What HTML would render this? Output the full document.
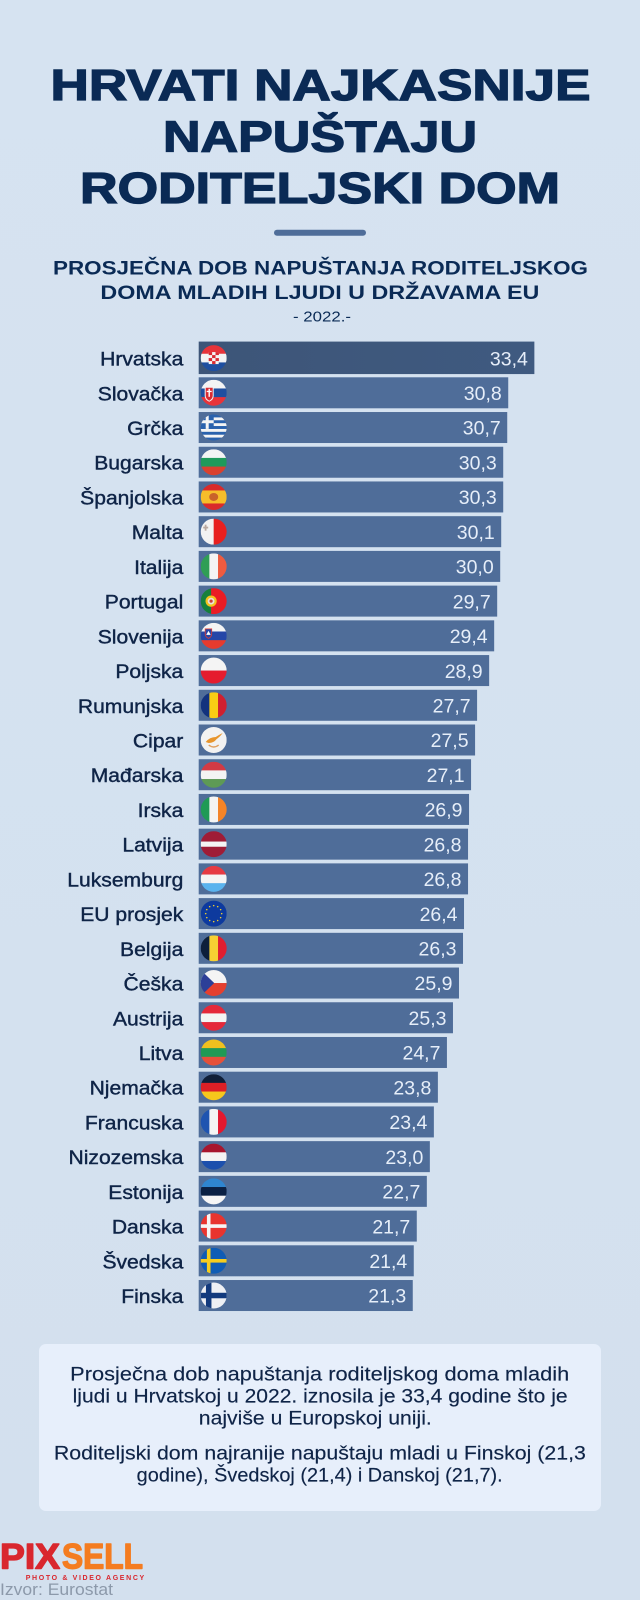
<!DOCTYPE html>
<html lang="hr">
<head>
<meta charset="utf-8">
<title>Hrvati najkasnije napuštaju roditeljski dom</title>
<style>
html,body{margin:0;padding:0;background:#d5e2f0;}
svg{display:block;}
text{font-family:"Liberation Sans","DejaVu Sans",sans-serif;}
</style>
</head>
<body>
<svg id="chart" xmlns="http://www.w3.org/2000/svg" width="640" height="1600" viewBox="0 0 640 1600">
  <defs>
    <linearGradient id="bgGrad" x1="0" y1="0" x2="0" y2="1">
      <stop offset="0" stop-color="#d6e3f1"/>
      <stop offset="1" stop-color="#d3e0ee"/>
    </linearGradient>
    <linearGradient id="topBar" x1="0" y1="0" x2="1" y2="0">
      <stop offset="0" stop-color="#3d5578"/>
      <stop offset="1" stop-color="#3f5a80"/>
    </linearGradient>
    <clipPath id="flagClip"><circle cx="0" cy="0" r="13"/></clipPath>
  </defs>
  <rect x="0" y="0" width="640" height="1600" fill="url(#bgGrad)"/>

  <g fill="#0a2a55" stroke="#0a2a55" stroke-width="1.3" font-weight="700" font-size="44">
    <text x="50.5" y="100.2" textLength="540" lengthAdjust="spacingAndGlyphs">HRVATI NAJKASNIJE</text>
    <text x="163" y="151.5" textLength="314" lengthAdjust="spacingAndGlyphs">NAPUŠTAJU</text>
    <text x="80" y="202.8" textLength="480" lengthAdjust="spacingAndGlyphs">RODITELJSKI DOM</text>
  </g>
  <rect x="274" y="229.7" width="92" height="6" rx="3" fill="#4f6d99"/>

  <g fill="#0a2a55" font-weight="700" font-size="19.5">
    <text x="53" y="274.7" textLength="535" lengthAdjust="spacingAndGlyphs">PROSJEČNA DOB NAPUŠTANJA RODITELJSKOG</text>
    <text x="100.4" y="299" textLength="439" lengthAdjust="spacingAndGlyphs">DOMA MLADIH LJUDI U DRŽAVAMA EU</text>
  </g>
  <text x="293" y="321.7" font-size="14.5" fill="#0a2a55" textLength="58" lengthAdjust="spacingAndGlyphs">- 2022.-</text>

  <g id="plot"></g>

  <rect x="39" y="1344" width="562" height="167" rx="7" fill="#e7effb"/>
  <g fill="#0f2447" stroke="#0f2447" stroke-width="0.15" font-size="19.5">
    <text x="70.2" y="1380.7" textLength="499" lengthAdjust="spacingAndGlyphs">Prosječna dob napuštanja roditeljskog doma mladih</text>
    <text x="72.6" y="1402.7" textLength="495" lengthAdjust="spacingAndGlyphs">ljudi u Hrvatskoj u 2022. iznosila je 33,4 godine što je</text>
    <text x="198.8" y="1424.3" textLength="233" lengthAdjust="spacingAndGlyphs">najviše u Europskoj uniji.</text>
    <text x="53.9" y="1459.3" textLength="532" lengthAdjust="spacingAndGlyphs">Roditeljski dom najranije napuštaju mladi u Finskoj (21,3</text>
    <text x="136.7" y="1481.7" textLength="366" lengthAdjust="spacingAndGlyphs">godine), Švedskoj (21,4) i Danskoj (21,7).</text>
  </g>

  <g>
    <text x="0" y="1568.5" font-size="35" font-weight="700" fill="#d9272e" stroke="#d9272e" stroke-width="1.4" stroke-linejoin="round" textLength="60" lengthAdjust="spacingAndGlyphs">PIX</text>
    <text x="62" y="1568.5" font-size="35" font-weight="700" fill="#f47c20" stroke="#f47c20" stroke-width="1.4" stroke-linejoin="round" textLength="81" lengthAdjust="spacingAndGlyphs">SELL</text>
    <text x="25.7" y="1580" font-size="7" font-weight="700" fill="#d9272e" textLength="118.5" lengthAdjust="spacing">PHOTO &amp; VIDEO AGENCY</text>
  </g>
  <text x="0" y="1595" font-size="17" fill="#8c99aa" textLength="113" lengthAdjust="spacingAndGlyphs">Izvor: Eurostat</text>
</svg>

<script>
const categories = ["Hrvatska","Slovačka","Grčka","Bugarska","Španjolska","Malta","Italija","Portugal","Slovenija","Poljska","Rumunjska","Cipar","Mađarska","Irska","Latvija","Luksemburg","EU prosjek","Belgija","Češka","Austrija","Litva","Njemačka","Francuska","Nizozemska","Estonija","Danska","Švedska","Finska"];
const seriesValues = [33.4,30.8,30.7,30.3,30.3,30.1,30.0,29.7,29.4,28.9,27.7,27.5,27.1,26.9,26.8,26.8,26.4,26.3,25.9,25.3,24.7,23.8,23.4,23.0,22.7,21.7,21.4,21.3];
const flagCodes = ["hr","sk","gr","bg","es","mt","it","pt","si","pl","ro","cy","hu","ie","lv","lu","eu","be","cz","at","lt","de","fr","nl","ee","dk","se","fi"];

const SVG_NS = "http://www.w3.org/2000/svg";
const plot = document.getElementById("plot");
const BAR_LEFT = 198.7, UNIT = 10.05, ROW_ORIGIN = 342.58, ROW_STEP = 34.72, BAR_H = 31;
const xLen = v => v * UNIT;
const rowTop = i => ROW_ORIGIN + i * ROW_STEP;

function make(tag, attrs, parent) {
  const n = document.createElementNS(SVG_NS, tag);
  for (const k in attrs) n.setAttribute(k, attrs[k]);
  if (parent) parent.appendChild(n);
  return n;
}
function rect(p, x, y, w, h, fill) { make("rect", {x, y, width: w, height: h, fill}, p); }
function hs(p, colors, weights) {
  const ws = weights || colors.map(() => 1);
  const tot = ws.reduce((a, b) => a + b, 0);
  let y = -13;
  colors.forEach((c, i) => { const h = 26 * ws[i] / tot; rect(p, -13, y, 26, h + 0.2, c); y += h; });
}
function vs(p, colors, weights) {
  const ws = weights || colors.map(() => 1);
  const tot = ws.reduce((a, b) => a + b, 0);
  let x = -13;
  colors.forEach((c, i) => { const w = 26 * ws[i] / tot; rect(p, x, -13, w + 0.2, 26, c); x += w; });
}
function nordic(p, bg, cross, w) {
  rect(p, -13, -13, 26, 26, bg);
  rect(p, -5 - w / 2, -13, w, 26, cross);
  rect(p, -13, -w / 2, 26, w, cross);
}
const flagDraw = {
  hr(p) {
    hs(p, ["#e8343a", "#f4f4f4", "#1f4fa0"]);
    rect(p, -5, -6, 10, 12, "#f4f4f4");
    for (let r = 0; r < 4; r++) for (let c = 0; c < 3; c++) {
      if ((r + c) % 2 === 0) rect(p, -5 + c * 3.4, -6 + r * 3, 3.4, 3, "#d92b33");
    }
  },
  sk(p) {
    hs(p, ["#f4f4f4", "#1f4fa0", "#e8343a"]);
    make("path", {d: "M-9,-6 H0 V3 Q0,7 -4.5,9 Q-9,7 -9,3 Z", fill: "#f4f4f4"}, p);
    make("path", {d: "M-8,-5 H-1 V3 Q-1,6 -4.5,8 Q-8,6 -8,3 Z", fill: "#d92b33"}, p);
    rect(p, -5.2, -4, 1.4, 8, "#fff");
    rect(p, -7, -2, 5, 1.3, "#fff");
  },
  gr(p) {
    for (let i = 0; i < 9; i++) rect(p, -13, -13 + i * 26 / 9, 26, 26 / 9 + 0.1, i % 2 ? "#f4f4f4" : "#2a62ad");
    rect(p, -13, -13, 13, 14.4, "#2a62ad");
    rect(p, -8, -13, 3, 14.4, "#f4f4f4");
    rect(p, -13, -7.3, 13, 3, "#f4f4f4");
  },
  bg(p) { hs(p, ["#f4f4f4", "#1f9a5b", "#d9412f"]); },
  es(p) {
    hs(p, ["#d92b2b", "#f6bd2a", "#d92b2b"], [1, 2, 1]);
    make("ellipse", {cx: 0, cy: 0, rx: 4.5, ry: 4, fill: "#c9622a"}, p);
  },
  mt(p) {
    vs(p, ["#f2f2f2", "#e8201f"]);
    rect(p, -9, -7, 1.8, 6, "#b9a9a0");
    rect(p, -10.5, -5, 5, 1.8, "#b9a9a0");
  },
  it(p) { vs(p, ["#2f9e55", "#f4f4f4", "#ef5b3f"]); },
  pt(p) {
    vs(p, ["#16803c", "#ea1c24"], [2, 3]);
    make("circle", {cx: -2.6, cy: 0, r: 5.6, fill: "#f5c21d"}, p);
    make("circle", {cx: -2.6, cy: 0, r: 3.4, fill: "#e8e4dc"}, p);
    make("circle", {cx: -2.6, cy: 0, r: 1.6, fill: "#cf3a3a"}, p);
  },
  si(p) {
    hs(p, ["#f4f4f4", "#2547a8", "#e63b2e"]);
    make("path", {d: "M-8.5,-7 H-2 V-2 Q-2,1 -5.2,2.5 Q-8.5,1 -8.5,-2 Z", fill: "#2547a8", stroke: "#e63b2e", "stroke-width": 0.8}, p);
    make("path", {d: "M-7.5,-1 L-5.2,-5 L-3,-1 Z", fill: "#fff"}, p);
  },
  pl(p) { hs(p, ["#f4f4f4", "#e51c2e"]); },
  ro(p) { vs(p, ["#12327e", "#f9cc14", "#d0202f"]); },
  cy(p) {
    rect(p, -13, -13, 26, 26, "#f2f2f2");
    make("path", {d: "M-8,2 Q-4,-3 2,-3 Q5,-5 9,-7 Q6,-3 3,-1 Q0,3 -5,3 Z", fill: "#e8952c"}, p);
    make("path", {d: "M-5,5 Q0,9 5,5", fill: "none", stroke: "#e0a060", "stroke-width": 1.4}, p);
  },
  hu(p) { hs(p, ["#d23a44", "#f4f4f4", "#5e9a55"]); },
  ie(p) { vs(p, ["#1f9a55", "#f4f4f4", "#f58427"]); },
  lv(p) { hs(p, ["#9f1c36", "#f4f4f4", "#9f1c36"], [2, 1, 2]); },
  lu(p) { hs(p, ["#e63a43", "#f4f4f4", "#5ab3ee"]); },
  eu(p) {
    rect(p, -13, -13, 26, 26, "#0d3a9e");
    for (let a = 0; a < 12; a++) {
      const t = a * Math.PI / 6;
      make("circle", {cx: 8 * Math.cos(t), cy: 8 * Math.sin(t), r: 0.75, fill: "#f6d22a"}, p);
    }
  },
  be(p) { vs(p, ["#0d1f3a", "#f6d033", "#e01e30"]); },
  cz(p) {
    hs(p, ["#f4f4f4", "#e5402f"]);
    make("path", {d: "M-13,-13 L0.5,0 L-13,13 Z", fill: "#2c3f98"}, p);
  },
  at(p) { hs(p, ["#e5283a", "#f4f4f4", "#e5283a"]); },
  lt(p) { hs(p, ["#efc01f", "#1f9a55", "#e5503a"]); },
  de(p) { hs(p, ["#0f1e38", "#dc1f26", "#f6c71c"]); },
  fr(p) { vs(p, ["#1f54b0", "#f4f4f4", "#e3182f"]); },
  nl(p) { hs(p, ["#a8162e", "#f4f4f4", "#1c50ad"]); },
  ee(p) { hs(p, ["#2f86d0", "#0b2144", "#f6f6f6"]); },
  dk(p) { nordic(p, "#e8342f", "#f5f5f5", 3.6); },
  se(p) { nordic(p, "#0f5cb5", "#f5cc1e", 3.6); },
  fi(p) { nordic(p, "#eef0f4", "#123a7d", 5.5); }
};

categories.forEach((name, i) => {
  const val = seriesValues[i];
  const top = rowTop(i);
  const mid = top + BAR_H / 2;
  const highlight = i === 0;

  const row = make("g", {}, plot);
  
  

  const label = make("text", {
    transform: "translate(183.3 " + (mid + 7.5) + ") scale(1.11 1)",
    "text-anchor": "end",
    "font-size": 19,
    fill: "#0f2447",
    stroke: "#0f2447",
    "stroke-width": 0.4
  }, row);
  label.textContent = name;
  
  

  const bar = make("rect", {
    x: BAR_LEFT,
    y: highlight ? top - 1 : top,
    width: xLen(val),
    height: highlight ? BAR_H + 1.5 : BAR_H,
    fill: highlight ? "url(#topBar)" : "#4f6d99"
  }, row);
  
  

  const flag = make("g", {
    transform: "translate(213.7 " + mid + ")",
    "clip-path": "url(#flagClip)"
  }, row);
  
  
  flagDraw[flagCodes[i]](flag);

  const value = make("text", {
    x: BAR_LEFT + xLen(val) - 6.5,
    y: mid + 7.2,
    "text-anchor": "end",
    "font-size": 19.5,
    fill: "#e6eef9"
  }, row);
  value.textContent = val.toFixed(1).replace(".", ",");
  
  
});
</script>
</body>
</html>
